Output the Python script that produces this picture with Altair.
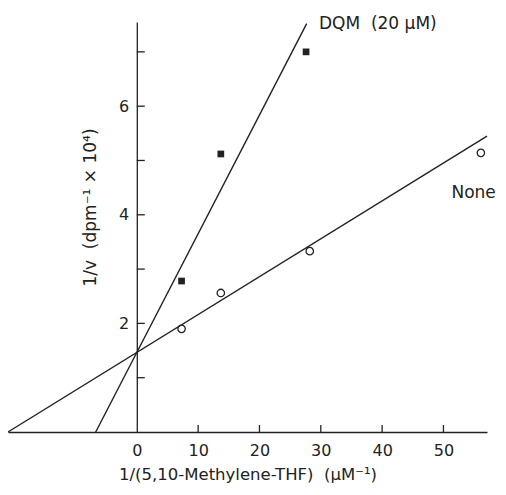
import altair as alt
import pandas as pd

# ---- data ----
none_x = [7.3, 13.7, 28.2, 56.1]
none_y = [1.90, 2.56, 3.33, 5.14]
dqm_x = [7.3, 13.7, 27.6]
dqm_y = [2.78, 5.12, 7.00]

none_line_x = [-21.0, 57.1]
none_line_y = [0.0, 5.45]
dqm_line_x = [-6.7, 27.7]
dqm_line_y = [0.0, 7.52]

x_tick_values = [10, 20, 30, 40, 50]
x_label_values = [0, 10, 20, 30, 40, 50]
y_tick_values = [1, 2, 3, 4, 5, 6, 7]
y_label_values = [2, 4, 6]

NB = "\u00a0"
series_labels = ["DQM" + NB * 2 + "(20" + NB + "µM)", "None"]
series_label_x = [29.7, 51.3]
series_label_y = [7.52, 4.40]

X_TITLE = "1/(5,10-Methylene-THF)" + NB * 2 + "(µM⁻¹)"
Y_TITLE = "1/v" + NB * 2 + "(dpm⁻¹ × 10⁴)"

# ---- layout ----
X_DOMAIN = [-21.0, 57.1]
Y_DOMAIN = [0.0, 7.55]
W, H = 479, 410
INK = "#222222"
FONT = "DejaVu Sans"
FS = 16

# y axis sits at x = 0: displace it inward
y_axis_offset = -W * (0 - X_DOMAIN[0]) / (X_DOMAIN[1] - X_DOMAIN[0])

xs = alt.Scale(domain=X_DOMAIN, nice=False, zero=False)
ys = alt.Scale(domain=Y_DOMAIN, nice=False, zero=False)

lines_df = pd.DataFrame({
    "x": none_line_x + dqm_line_x,
    "y": none_line_y + dqm_line_y,
    "s": ["None"] * len(none_line_x) + ["DQM"] * len(dqm_line_x),
})
none_df = pd.DataFrame({"x": none_x, "y": none_y})
dqm_df = pd.DataFrame({"x": dqm_x, "y": dqm_y})
xt_df = pd.DataFrame({"x": x_tick_values, "y": [0] * len(x_tick_values)})
yt_df = pd.DataFrame({"y": y_tick_values, "x": [0] * len(y_tick_values)})
lab_df = pd.DataFrame({"t": series_labels, "x": series_label_x, "y": series_label_y})

x_axis = alt.Axis(
    values=x_label_values, ticks=False, tickSize=0, grid=False,
    labelPadding=10, labelFontSize=FS, labelFont=FONT, labelColor=INK,
    domainColor=INK, domainWidth=1.3,
    title=X_TITLE, titleFontSize=16.5, titleFont=FONT, titleFontWeight="normal",
    titleColor=INK, titlePadding=8,
)
y_axis = alt.Axis(
    values=y_label_values, ticks=False, tickSize=0, grid=False,
    offset=y_axis_offset,
    labelPadding=8, labelFontSize=FS, labelFont=FONT, labelColor=INK,
    domainColor=INK, domainWidth=1.3,
    title=Y_TITLE, titleFontSize=17, titleFont=FONT, titleFontWeight="normal",
    titleColor=INK, titlePadding=19, titleY=185,
)


def X(f="x"):
    return alt.X(f + ":Q", scale=xs, axis=x_axis)


def Y(f="y"):
    return alt.Y(f + ":Q", scale=ys, axis=y_axis)


lines = alt.Chart(lines_df).mark_line(color=INK, strokeWidth=1.4).encode(
    x=X(), y=Y(), detail="s:N",
)

circles = alt.Chart(none_df).mark_point(
    shape="circle", filled=False, color=INK, size=55, strokeWidth=1.3, opacity=1
).encode(x=X(), y=Y())

squares = alt.Chart(dqm_df).mark_point(
    shape="square", filled=True, color=INK, size=45, opacity=1
).encode(x=X(), y=Y())

x_ticks = alt.Chart(xt_df).mark_rule(color=INK, strokeWidth=1.3, y2Offset=-7).encode(
    x=X(), y=Y(), y2="y:Q",
)

y_ticks = alt.Chart(yt_df).mark_rule(color=INK, strokeWidth=1.3, x2Offset=8).encode(
    y=Y(), x=X(), x2="x:Q",
)

labels = alt.Chart(lab_df).mark_text(
    align="left", baseline="middle", font=FONT, fontSize=17, color=INK
).encode(x=X(), y=Y(), text="t:N")

chart = alt.layer(lines, circles, squares, x_ticks, y_ticks, labels).properties(
    width=W, height=H,
    autosize=alt.AutoSizeParams(type="none"),
    padding={"left": 0, "top": 14, "right": 11, "bottom": 55},
    background="white",
).configure_view(stroke=None)

chart.save("out.html", embed_options={"renderer": "svg", "actions": False})
